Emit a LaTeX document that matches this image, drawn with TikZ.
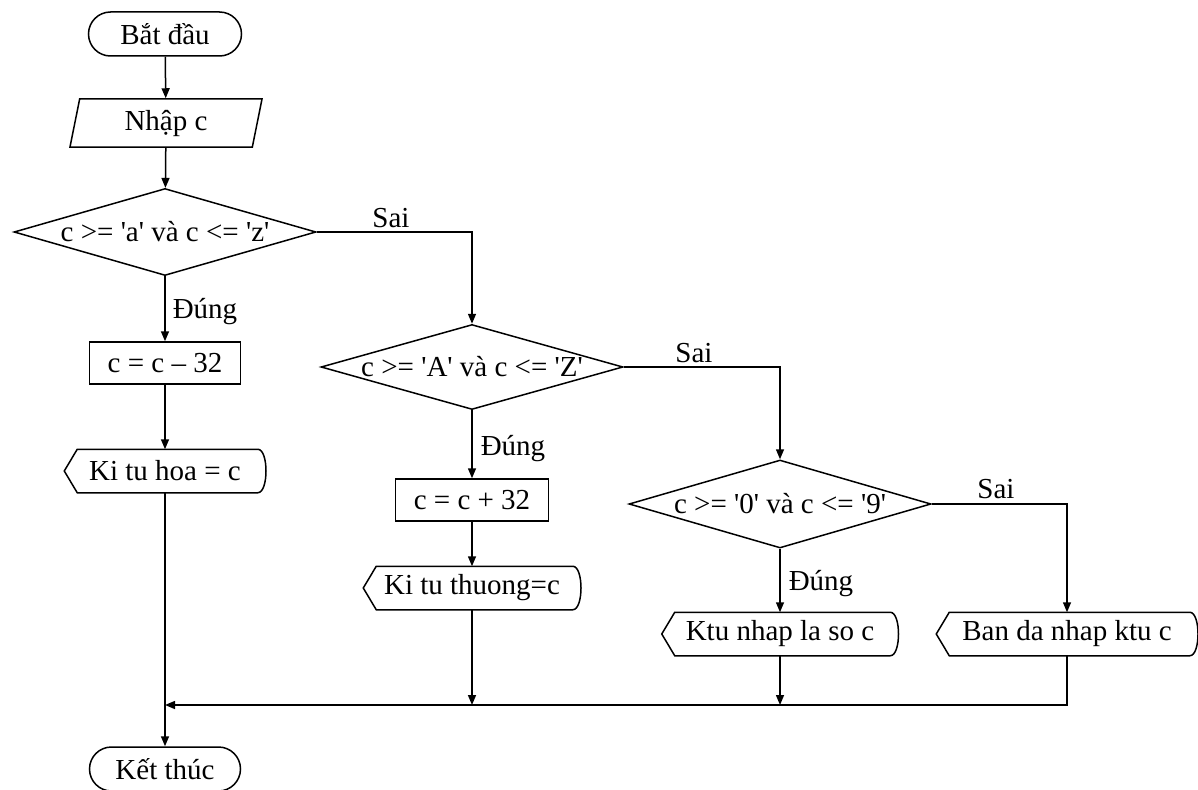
\documentclass[tikz,border=0pt]{standalone}
\usepackage{fontspec}
\setmainfont{Liberation Serif}
\usetikzlibrary{shapes.geometric,shapes.misc,arrows.meta}
\newcommand\qq{\textquotesingle}
\begin{document}
\begin{tikzpicture}[x=1pt,y=-1pt,
  font=\fontsize{29}{33}\selectfont,
  line width=1.5pt,
  arr/.style={-{Triangle[length=10pt,width=8pt]}},
  term/.style={rounded rectangle, draw, minimum width=153pt, minimum height=44pt, inner sep=0pt},
  io/.style={trapezium, trapezium left angle=80, trapezium right angle=100, trapezium stretches=true, draw, minimum width=193pt, minimum height=48pt, inner sep=0pt},
  dec/.style={diamond, draw, shape aspect=3.5, inner sep=0pt, minimum width=302pt, minimum height=87pt},
  proc/.style={rectangle, draw, minimum height=42pt, inner sep=0pt},
  disp/.style={rectangle, minimum height=42pt, inner sep=0pt},
  lab/.style={anchor=base, inner sep=0pt}]
\path[use as bounding box, fill=white] (0,0) rectangle (1198,789);

% main column
\node[term] (start) at (165,34) {Bắt đầu};
\node[io] (inp) at (166,123) {Nhập c};
\node[dec] (d1) at (165,232) {c >= \qq a\qq{} và c <= \qq z\qq};
\node[proc, minimum width=151pt] (r1) at (165,363) {c = c – 32};
\node[disp, minimum width=200pt] (kh) at (165,471) {Ki tu hoa = c};
\node[term, minimum width=151pt] (end) at (165,769) {Kết thúc};

% second column
\node[dec, minimum height=85pt] (d2) at (472,367) {c >= \qq A\qq{} và c <= \qq Z\qq};
\node[proc, minimum width=153pt] (r2) at (472,500) {c = c + 32};
\node[disp, minimum width=216pt] (kth) at (472,588) {Ki tu thuong=c};

% third column
\node[dec, minimum height=88pt] (d3) at (780,504) {c >= \qq 0\qq{} và c <= \qq 9\qq};
\node[disp, minimum width=235pt] (ktu) at (780,634) {Ktu nhap la so c};
\node[disp, minimum width=260pt] (bd) at (1067,634) {Ban da nhap ktu c};

% display outlines
\foreach \n in {kh,kth,ktu,bd}{
  \draw ([xshift=13pt]\n.north west) -- ([xshift=-8pt]\n.north east)
    .. controls ([xshift=3pt]\n.north east) and ([xshift=3pt]\n.south east) .. ([xshift=-8pt]\n.south east)
    -- ([xshift=13pt]\n.south west) -- (\n.west) -- cycle;
}

% labels
\node[lab] (s1) at (391,227) {Sai};
\node[lab] (s2) at (694,362) {Sai};
\node[lab] (s3) at (996,498) {Sai};
\node[lab] (y1) at (205,318) {Đúng};
\node[lab] (y2) at (513,455) {Đúng};
\node[lab] (y3) at (821,590) {Đúng};

\coordinate (m) at (165,705);

% connectors
\draw[arr] (start) -- (inp);
\draw[arr] (inp) -- (d1);
\draw[arr] (d1.east) -| (d2.north);
\draw[arr] (d1.south) -- (r1.north);
\draw[arr] (r1) -- (kh);
\draw[arr] (kh.south) -- (end.north);
\draw[arr] (d2.east) -| (d3.north);
\draw[arr] (d2.south) -- (r2.north);
\draw[arr] (r2) -- (kth);
\draw[arr] (d3.east) -| (bd.north);
\draw[arr] (d3.south) -- (ktu.north);
\draw[arr] (ktu.south) -- (ktu.south |- m);
\draw[arr] (kth.south) -- (kth.south |- m);
\draw[arr] (bd.south) |- (m);
\end{tikzpicture}
\end{document}
